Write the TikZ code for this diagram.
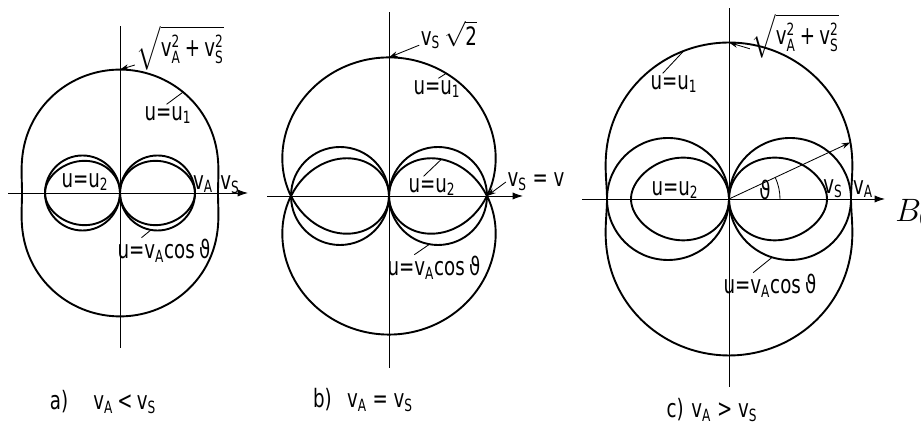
\documentclass[tikz,border=0pt]{standalone}
\usepackage{fix-cm}
\usepackage{amsmath}
\usepackage{fontspec}
\usetikzlibrary{arrows.meta,calc}
\newfontfamily\letterfont[FakeStretch=0.72]{DejaVu Sans}
\newcommand{\lettersize}{\fontsize{18}{20}\selectfont}
\DeclareMathSizes{18}{18}{12}{9}
% v with a subscript, and v with subscript and square
\newcommand{\vsub}[1]{v$_{\text{#1}}$}
\newcommand{\vsq}[1]{\text{v}_{\text{#1}}^{\text{2}}}

\begin{document}
\begin{tikzpicture}[x=2.5cm,y=2.5cm,
  declare function={
    uone(\ang,\fa,\fs)=sqrt((\fa*\fa+\fs*\fs)/2+sqrt(max(0,(\fa*\fa+\fs*\fs)^2/4-\fa*\fa*\fs*\fs*cos(\ang)^2)));
    utwo(\ang,\fa,\fs)=\fa*\fs*abs(cos(\ang))/uone(\ang,\fa,\fs);
  },
  curve/.style={line width=1.35pt},
  axis/.style={line width=0.6pt,-{Latex[length=2.6mm,width=1.8mm]}},
  leader/.style={line width=0.6pt},
  pointer/.style={line width=0.6pt,-{Stealth[length=2.2mm,width=1.4mm]}},
  lbl/.style={font=\letterfont\lettersize,inner sep=1pt},
  ]
  \useasboundingbox (0,0) rectangle (9.21,4.23);

  % the three polar diagrams
  \foreach \p/\cx/\cy/\cA/\cS/\xl/\xr/\yb/\yt in
    {a/1.20/2.30/0.75/0.98/-1.12/1.28/-1.55/1.67,
     b/3.89/2.27/0.98/0.98/-1.22/1.34/-1.72/1.84,
     c/7.29/2.24/1.22/0.98/-1.47/1.56/-1.88/1.91} {
    \begin{scope}[shift={(\cx,\cy)}]
      \coordinate (\p-o) at (0,0);
      \draw[leader] (0,\yb) -- (0,\yt);
      \draw[axis] (\xl,0) -- (\xr,0);
      \draw[curve] plot[variable=\q,domain=0:360,samples=241] (\q:{uone(\q,\cA,\cS)}) -- cycle;
      \draw[curve] plot[variable=\q,domain=0:360,samples=241] (\q:{utwo(\q,\cA,\cS)}) -- cycle;
      \draw[curve] (\cA/2,0) circle[radius=\cA/2];
      \draw[curve] (-\cA/2,0) circle[radius=\cA/2];
    \end{scope}
  }

  % a) vA < vS
  \begin{scope}[shift={(a-o)}]
    \node[lbl] (a-root) at (0.60,1.45) {$\sqrt{\vsq{A}\text{\,+\,}\vsq{S}}$};
    \coordinate (a-top) at (0,{uone(90,0.75,0.98)});
    \draw[pointer] ([yshift=5pt]a-root.south west) -- (a-top);
    \node[lbl] (a-u1lab) at (0.48,0.78) {u=u\textsubscript{1}};
    \coordinate (a-u1) at (58:{uone(58,0.75,0.98)});
    \draw[leader] ([xshift=-1pt]a-u1lab.north) -- (a-u1);
    \node[lbl] (a-u2lab) at (-0.35,0.11) {u=u\textsubscript{2}};
    \node[lbl] (a-vA) at (0.83,0.09) {\vsub{A}};
    \node[lbl] (a-vS) at (1.10,0.08) {\vsub{S}};
    \node[lbl] (a-cos) at (0.44,-0.58) {u=\vsub{A}cos\,ϑ};
    \path (0.375,0) ++(-100:0.375) coordinate (a-al);
    \draw[leader] ([xshift=-16pt]a-cos.north) -- (a-al);
  \end{scope}

  % b) vA = vS
  \begin{scope}[shift={(b-o)}]
    \node[lbl] (b-root) at (0.60,1.61) {$\text{v}_{\text{S}}\,\sqrt{\text{2}}$};
    \coordinate (b-top) at (0,{uone(90,0.98,0.98)});
    \draw[pointer] ([yshift=4pt]b-root.south west) -- (b-top);
    \node[lbl] (b-u1lab) at (0.48,1.07) {u=u\textsubscript{1}};
    \coordinate (b-u1) at (65:{uone(65,0.98,0.98)});
    \draw[leader] ([xshift=1pt]b-u1lab.north) -- (b-u1);
    \node[lbl] (b-u2lab) at (0.43,0.09) {u=u\textsubscript{2}};
    \coordinate (b-u2) at (35:{utwo(35,0.98,0.98)});
    \draw[leader] ([xshift=-6pt]b-u2lab.north) -- (b-u2);
    \node[lbl] (b-v) at (1.47,0.14) {\vsub{S} = v};
    \coordinate (b-vS) at (0:{uone(0,0.98,0.98)});
    \draw[pointer] (b-v.west) -- (b-vS);
    \node[lbl] (b-cos) at (0.45,-0.72) {u=\vsub{A}cos\,ϑ};
    \path (0.49,0) ++(-100:0.49) coordinate (b-al);
    \draw[leader] ([xshift=-14pt]b-cos.north) -- (b-al);
  \end{scope}

  % c) vA > vS
  \begin{scope}[shift={(c-o)}]
    \node[lbl] (c-root) at (0.66,1.63) {$\sqrt{\vsq{A}\text{\,+\,}\vsq{S}}$};
    \coordinate (c-top) at (0,{uone(90,1.22,0.98)});
    \draw[pointer] ([yshift=8pt]c-root.south west) -- (c-top);
    \node[lbl] (c-u1lab) at (-0.55,1.15) {u=u\textsubscript{1}};
    \coordinate (c-u1) at (107:{uone(107,1.22,0.98)});
    \draw[leader] ([xshift=-8pt]c-u1lab.north) -- (c-u1);
    \node[lbl] (c-u2lab) at (-0.54,0.09) {u=u\textsubscript{2}};
    \coordinate (c-r) at (25:{uone(25,1.22,0.98)});
    \draw[pointer] (c-o) -- (c-r);
    \draw[leader] (0.51,0) arc[start angle=0,end angle=25,radius=0.51];
    \node[lbl] (c-th) at (0.36,0.09) {ϑ};
    \node[lbl] (c-vS) at (1.04,0.1) {\vsub{S}};
    \node[lbl] (c-vA) at (1.34,0.1) {\vsub{A}};
    \node[lbl] (c-cos) at (0.41,-0.87) {u=\vsub{A}cos\,ϑ};
    \path (0.61,0) ++(-107:0.61) coordinate (c-al);
    \draw[leader] ([xshift=-12pt]c-cos.north) -- (c-al);
    \node[anchor=base west,inner sep=0pt,font=\fontsize{23}{26}\selectfont] (c-B) at (1.66,-0.23) {$B_0$};
  \end{scope}

  % captions
  \node[lbl] (cap-a) at (1.03,0.21) {a)\hspace{1.0em}\vsub{A}\,<\,\vsub{S}};
  \node[lbl] (cap-b) at (3.63,0.23) {b)\hspace{0.6em}\vsub{A} = \vsub{S}};
  \node[lbl] (cap-c) at (7.12,0.13) {c)\hspace{0.3em}\vsub{A} > \vsub{S}};
\end{tikzpicture}
\end{document}
